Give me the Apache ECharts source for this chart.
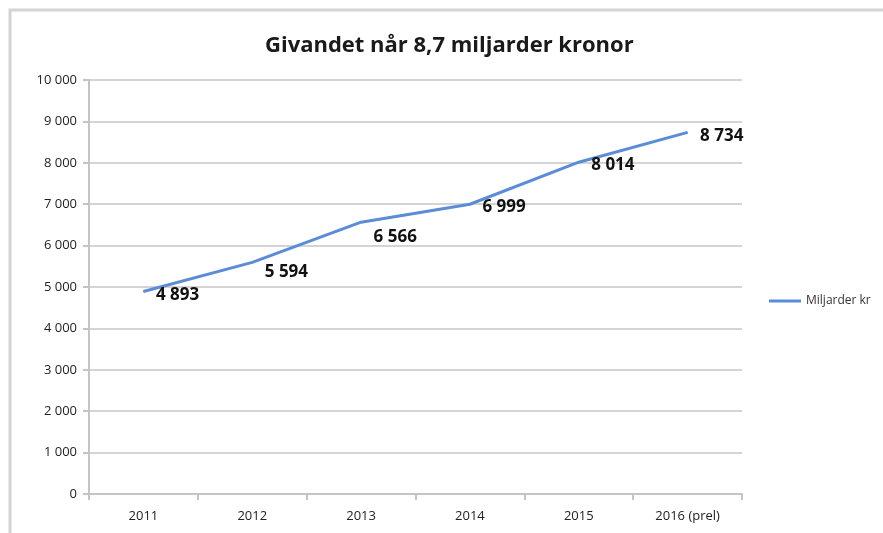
<!DOCTYPE html>
<html>
<head>
<meta charset="utf-8">
<script src="https://cdn.jsdelivr.net/npm/echarts@6/dist/echarts.min.js"></script>
<style>
  html, body { margin: 0; padding: 0; background: #fff; }
  #chart { width: 883px; height: 533px; }
</style>
</head>
<body>
<div id="chart"></div>
<script>
// data
const years = ['2011', '2012', '2013', '2014', '2015', '2016 (prel)'];
const givande = [4893, 5594, 6566, 6999, 8014, 8734];
const seriesName = 'Miljarder kr';

// how far each label sits below its point (px)
const labelDrop = [4, 10, 15, 3, 3, 4];

const fmt = v => String(v).replace(/\B(?=(\d{3})+(?!\d))/g, ' ');

const chart = echarts.init(document.getElementById('chart'));

const option = {
    backgroundColor: '#fff',
    textStyle: { fontFamily: 'Open Sans' },
    graphic: [{
        type: 'rect',
        shape: { x: 10, y: 10, width: 900, height: 560 },
        style: { fill: 'none', stroke: '#d4d4d4', lineWidth: 3 },
        silent: true
    }],
    title: {
        text: 'Givandet når 8,7 miljarder kronor',
        left: 260,
        top: 30,
        textStyle: { fontSize: 22, fontWeight: 'bold', color: '#1a1a1a', fontFamily: 'Open Sans' }
    },
    legend: {
        data: [seriesName],
        left: 764,
        top: 290,
        itemWidth: 32,
        itemHeight: 3,
        icon: 'rect',
        textStyle: { fontSize: 12, color: '#333' }
    },
    grid: { left: 89, right: 141, top: 80, bottom: 39 },
    xAxis: {
        type: 'category',
        data: years,
        boundaryGap: true,
        axisLine: { lineStyle: { color: '#c4c4c4', width: 2 } },
        axisTick: { show: true, length: 6, lineStyle: { color: '#c4c4c4', width: 2 } },
        axisLabel: { fontSize: 13, color: '#222', margin: 16 }
    },
    yAxis: {
        type: 'value',
        min: 0,
        max: 10000,
        interval: 1000,
        axisLine: { show: true, lineStyle: { color: '#c4c4c4', width: 2 } },
        axisTick: { show: true, length: 6, lineStyle: { color: '#c4c4c4', width: 2 } },
        splitLine: { lineStyle: { color: '#d4d4d4', width: 2 } },
        axisLabel: { fontSize: 13, color: '#222', margin: 12, formatter: fmt }
    },
    series: [{
        name: seriesName,
        type: 'line',
        showSymbol: true,
        symbol: 'circle',
        symbolSize: 1,
        lineStyle: { color: '#5b8cd8', width: 3 },
        itemStyle: { color: '#5b8cd8' },
        data: givande.map((v, i) => ({
            value: v,
            label: { offset: [0, labelDrop[i]] }
        })),
        label: {
            show: true,
            position: 'right',
            distance: 12,
            fontSize: 17,
            fontWeight: 'bold',
            color: '#111',
            formatter: p => fmt(p.value)
        }
    }]
};

chart.setOption(option);
</script>
</body>
</html>
